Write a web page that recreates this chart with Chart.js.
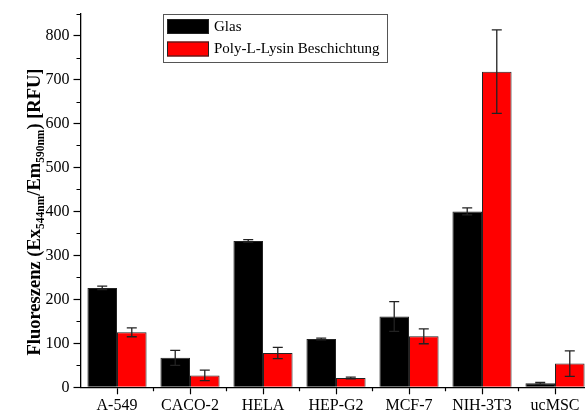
<!DOCTYPE html>
<html>
<head>
<meta charset="utf-8">
<script src="https://cdn.jsdelivr.net/npm/chart.js@4.4.0/dist/chart.umd.min.js"></script>
<style>
  html, body { margin: 0; padding: 0; background: #fff; overflow: hidden; }
</style>
</head>
<body>
<canvas id="chart" width="600" height="417"></canvas>
<script>
const cellLines = ['A-549', 'CACO-2', 'HELA', 'HEP-G2', 'MCF-7', 'NIH-3T3', 'ucMSC'];
const glas = [226, 67, 333, 110, 161, 400, 9];
const glasErr = [4, 17, 3, 2, 34, 8, 2];
const polyLysin = [125, 27, 78, 21, 116, 718, 54];
const polyLysinErr = [10, 12, 13, 2, 17, 95, 29];
const seriesNames = ['Glas', 'Poly-L-Lysin Beschichtung'];

const serif = 'Liberation Serif';

// error bars, drawn from the y scale
const errorBars = {
  id: 'errorBars',
  afterDatasetsDraw(chart) {
    const { ctx } = chart;
    const y = chart.scales.y;
    chart.data.datasets.forEach((ds, i) => {
      const meta = chart.getDatasetMeta(i);
      meta.data.forEach((bar, j) => {
        const v = ds.data[j];
        const e = ds.errors[j];
        const top = y.getPixelForValue(v + e);
        const bot = y.getPixelForValue(v - e);
        ctx.save();
        ctx.strokeStyle = '#222';
        ctx.lineWidth = 1.3;
        ctx.beginPath();
        ctx.moveTo(bar.x, top); ctx.lineTo(bar.x, bot);
        ctx.moveTo(bar.x - 5, top); ctx.lineTo(bar.x + 5, top);
        ctx.moveTo(bar.x - 5, bot); ctx.lineTo(bar.x + 5, bot);
        ctx.stroke();
        ctx.restore();
      });
    });
  }
};

// minor ticks on both axes
const minorTicks = {
  id: 'minorTicks',
  afterDraw(chart) {
    const { ctx, chartArea } = chart;
    const x = chart.scales.x;
    const y = chart.scales.y;
    ctx.save();
    ctx.strokeStyle = '#000';
    ctx.lineWidth = 1.2;
    ctx.beginPath();
    for (let v = 50; v <= 850; v += 100) {
      const py = Math.round(y.getPixelForValue(v)) + 0.5;
      ctx.moveTo(chartArea.left - 4, py); ctx.lineTo(chartArea.left, py);
    }
    for (let i = 1; i < cellLines.length; i++) {
      const px = (x.getPixelForValue(i - 1) + x.getPixelForValue(i)) / 2;
      ctx.moveTo(px, chartArea.bottom); ctx.lineTo(px, chartArea.bottom + 4);
    }
    ctx.stroke();
    ctx.restore();
  }
};

// boxed legend like the original
const boxLegend = {
  id: 'boxLegend',
  afterDraw(chart) {
    const { ctx } = chart;
    const left = 163, top = 14, w = 224, h = 48;
    ctx.save();
    ctx.fillStyle = '#fff';
    ctx.fillRect(left, top, w, h);
    ctx.strokeStyle = '#555';
    ctx.lineWidth = 1;
    ctx.strokeRect(left + 0.5, top + 0.5, w, h);
    ctx.font = '15px ' + serif;
    ctx.textBaseline = 'middle';
    chart.data.datasets.forEach((ds, i) => {
      const sy = top + 5 + i * 22.5;
      ctx.fillStyle = ds.backgroundColor;
      ctx.fillRect(left + 4, sy, 42, 15);
      ctx.strokeStyle = '#222';
      ctx.strokeRect(left + 4.5, sy + 0.5, 41, 14);
      ctx.fillStyle = '#000';
      ctx.fillText(ds.label, left + 51, sy + 8);
    });
    ctx.restore();
  }
};

// y axis title with subscripts
const yTitle = {
  id: 'yTitle',
  afterDraw(chart) {
    const { ctx } = chart;
    const parts = [
      ['Fluoreszenz (Ex', false], ['544nm', true], ['/Em', false],
      ['590nm', true], [') [RFU]', false]
    ];
    const big = 'bold 18.5px ' + serif;
    const small = 'bold 11.5px ' + serif;
    ctx.save();
    let total = 0;
    parts.forEach(([t, sub]) => { ctx.font = sub ? small : big; total += ctx.measureText(t).width; });
    ctx.translate(33, 212);
    ctx.rotate(-Math.PI / 2);
    ctx.fillStyle = '#000';
    ctx.textBaseline = 'alphabetic';
    let px = -total / 2;
    parts.forEach(([t, sub]) => {
      ctx.font = sub ? small : big;
      ctx.fillText(t, px, sub ? 10.5 : 6.5);
      px += ctx.measureText(t).width;
    });
    ctx.restore();
  }
};

new Chart(document.getElementById('chart'), {
  type: 'bar',
  data: {
    labels: cellLines,
    datasets: [
      {
        label: seriesNames[0],
        data: glas,
        errors: glasErr,
        backgroundColor: '#000000',
        borderColor: '#222',
        borderWidth: 1,
        categoryPercentage: 0.81,
        barPercentage: 1
      },
      {
        label: seriesNames[1],
        data: polyLysin,
        errors: polyLysinErr,
        backgroundColor: '#ff0000',
        borderColor: '#222',
        borderWidth: 1,
        categoryPercentage: 0.81,
        barPercentage: 1
      }
    ]
  },
  options: {
    responsive: false,
    animation: false,
    layout: { padding: { top: 10, right: 8.5, left: 0, bottom: 0 } },
    plugins: {
      legend: { display: false },
      tooltip: { enabled: false }
    },
    scales: {
      x: {
        afterFit: (s) => { s.height = 29.7; },
        grid: {
          offset: false,
          drawOnChartArea: false,
          tickLength: 7,
          tickColor: '#000',
          tickWidth: 1.2
        },
        border: { display: true, color: '#000', width: 1.3 },
        ticks: {
          color: '#000',
          padding: 2,
          maxRotation: 0,
          font: { family: serif, size: 16 }
        }
      },
      y: {
        min: 0,
        max: 850,
        afterFit: (s) => { s.width = 80.5; },
        grid: {
          drawOnChartArea: false,
          tickLength: 7,
          tickWidth: 1.2,
          tickColor: (c) => (c.tick && c.tick.value % 100 === 0 ? '#000' : 'rgba(0,0,0,0)')
        },
        border: { display: true, color: '#000', width: 1.3 },
        ticks: {
          stepSize: 50,
          color: '#000',
          padding: 4,
          font: { family: serif, size: 16 },
          callback: (v) => (v % 100 === 0 ? v : '')
        }
      }
    }
  },
  plugins: [errorBars, minorTicks, boxLegend, yTitle]
});
</script>
</body>
</html>
